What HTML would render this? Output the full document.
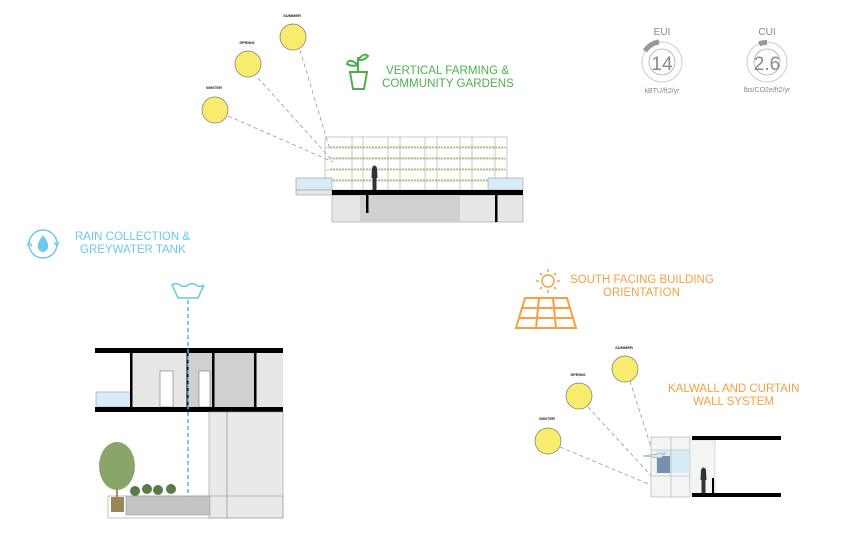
<!DOCTYPE html>
<html><head><meta charset="utf-8"><style>
html,body{margin:0;padding:0;background:#fff;width:848px;height:543px;overflow:hidden}
svg{display:block}
text{font-family:"Liberation Sans",sans-serif}
</style></head><body>
<svg width="848" height="543" viewBox="0 0 848 543" xmlns="http://www.w3.org/2000/svg">
<g stroke="#999" stroke-dasharray="4,3" stroke-width="0.8" fill="none">
<line x1="300" y1="50" x2="330" y2="150"/>
<line x1="258" y1="78" x2="330" y2="158"/>
<line x1="228" y1="116" x2="333" y2="162"/>
</g>
<g fill="#f8ec6f" stroke="#777" stroke-width="0.7">
<circle cx="293" cy="37" r="13"/><circle cx="248" cy="64" r="13"/><circle cx="215" cy="110" r="13"/>
</g>
<g font-size="4" font-weight="bold" fill="#222" text-anchor="middle">
<text x="292" y="17">SUMMER</text><text x="247" y="44">SPRING</text><text x="214" y="89">WINTER</text>
</g>
<g stroke="#bbb" stroke-width="0.8" fill="none">
<rect x="325" y="137" width="182" height="53"/>
<line x1="325" y1="148" x2="507" y2="148"/><line x1="325" y1="159" x2="507" y2="159"/><line x1="325" y1="170" x2="507" y2="170"/><line x1="325" y1="181" x2="507" y2="181"/>
<line x1="352" y1="137" x2="352" y2="190"/><line x1="363" y1="137" x2="363" y2="190"/><line x1="388" y1="137" x2="388" y2="190"/><line x1="400" y1="137" x2="400" y2="190"/><line x1="425" y1="137" x2="425" y2="190"/><line x1="437" y1="137" x2="437" y2="190"/><line x1="460" y1="137" x2="460" y2="190"/><line x1="472" y1="137" x2="472" y2="190"/><line x1="495" y1="137" x2="495" y2="190"/>
</g>
<g stroke="#8bc34a" stroke-width="1" stroke-dasharray="2,1"><line x1="330" y1="147" x2="505" y2="147"/><line x1="330" y1="158" x2="505" y2="158"/><line x1="330" y1="169" x2="505" y2="169"/><line x1="330" y1="180" x2="505" y2="180"/></g>
<rect x="296" y="178" width="36" height="12" fill="#d8ecf8" stroke="#999" stroke-width="0.6"/>
<rect x="296" y="190" width="36" height="5" fill="#e6e6e6" stroke="#999" stroke-width="0.6"/>
<rect x="488" y="178" width="35" height="12" fill="#d8ecf8" stroke="#999" stroke-width="0.6"/>
<rect x="332" y="195" width="191" height="27" fill="#e6e6e6" stroke="#999" stroke-width="0.6"/>
<rect x="360" y="195" width="100" height="27" fill="#d0d0d0"/>
<rect x="332" y="190" width="191" height="5" fill="#000"/>
<rect x="366" y="195" width="2.5" height="18" fill="#000"/>
<rect x="495" y="195" width="2.5" height="27" fill="#000"/>
<path d="M372 168 q2.5-5 5 0 l0.5 10 h-1 v12 h-4 v-12 h-1z" fill="#333"/>
<g stroke="#4caf50" stroke-width="2" fill="none">
<path d="M350 72 h17 l-3 17 h-11z"/><line x1="349" y1="72" x2="368" y2="72"/>
<path d="M358 72 v-15"/><path d="M358 65 q-9-8-11-1 q5 3 11 1"/><path d="M358 60 q6-8 10-4 q-4 5-10 4"/>
</g>
<g font-size="11.6" fill="#4caf50"><text x="386" y="74">VERTICAL FARMING &amp;</text><text x="382" y="87">COMMUNITY GARDENS</text></g>
<g fill="none">
<circle cx="662" cy="62" r="20" stroke="#ccc" stroke-width="1"/><circle cx="662" cy="62" r="13" stroke="#aaa" stroke-width="0.8"/>
<path d="M645 51 A20 20 0 0 1 659 42" stroke="#999" stroke-width="5"/>
<circle cx="767" cy="62" r="20" stroke="#ccc" stroke-width="1"/><circle cx="767" cy="62" r="13" stroke="#aaa" stroke-width="0.8"/>
<path d="M759 44 A20 20 0 0 1 767 42.5" stroke="#999" stroke-width="5"/>
</g>
<g fill="#888" text-anchor="middle">
<text x="662" y="35" font-size="10">EUI</text><text x="662" y="70" font-size="19">14</text><text x="662" y="93" font-size="7">kBTU/ft2/yr</text>
<text x="767" y="35" font-size="10">CUI</text><text x="767" y="70" font-size="19">2.6</text><text x="767" y="92" font-size="7">lbs/CO2e/ft2/yr</text>
</g>
<circle cx="43" cy="244" r="14" fill="none" stroke="#6cc8ec" stroke-width="1.5"/>
<path d="M43 235 q-6 8 -5 12 a5 5 0 0 0 10 0 q1-4 -5-12z" fill="#6cc8ec"/>
<path d="M27 246 l2-4 l3 4M59 242 l-2 4 l-3-4" stroke="#6cc8ec" fill="none" stroke-width="1.2"/>
<g font-size="11.5" fill="#6cc8ec"><text x="75" y="240">RAIN COLLECTION &amp;</text><text x="80" y="253">GREYWATER TANK</text></g>
<path d="M172 285 q4-3 8 0 q4 3 8 0 q4-3 8 0 q4 3 8 0 l-6 13 h-20z" fill="none" stroke="#6cc8ec" stroke-width="1.5"/>
<rect x="131" y="353" width="152" height="54" fill="#e6e6e6"/>
<rect x="187" y="353" width="68" height="54" fill="#d0d0d0"/>
<rect x="96" y="392" width="35" height="15" fill="#d8ecf8" stroke="#999" stroke-width="0.6"/>
<rect x="160" y="371" width="13" height="36" fill="#fff" stroke="#777" stroke-width="0.6"/>
<rect x="199" y="371" width="11" height="36" fill="#fff" stroke="#777" stroke-width="0.6"/>
<rect x="95" y="348" width="188" height="5" fill="#000"/>
<rect x="95" y="407" width="188" height="5" fill="#000"/>
<rect x="130" y="353" width="2.5" height="54" fill="#000"/>
<rect x="186.5" y="353" width="2" height="54" fill="#000"/>
<rect x="212" y="353" width="2.5" height="54" fill="#000"/>
<rect x="254" y="353" width="2.5" height="54" fill="#000"/>
<rect x="209" y="412" width="74" height="106" fill="#e9e9e9" stroke="#999" stroke-width="0.6"/>
<line x1="227" y1="412" x2="227" y2="518" stroke="#999" stroke-width="0.8"/>
<rect x="126" y="496" width="84" height="19" fill="#c4c4c4" stroke="#999" stroke-width="0.6"/>
<rect x="108" y="496" width="175" height="22" fill="none" stroke="#999" stroke-width="0.6"/>
<rect x="111" y="497" width="13" height="15" fill="#9a845a"/>
<line x1="117" y1="470" x2="117" y2="497" stroke="#7a6a4a" stroke-width="1.5"/>
<ellipse cx="117" cy="466" rx="18" ry="24" fill="#8aa56a"/>
<g fill="#5a7a4a"><circle cx="135" cy="491" r="5"/><circle cx="147" cy="489" r="5"/><circle cx="158" cy="490" r="5"/><circle cx="171" cy="489" r="5"/></g>
<line x1="188" y1="300" x2="188" y2="497" stroke="#4fb8e6" stroke-width="1.5" stroke-dasharray="4,3"/>
<circle cx="548" cy="281" r="6" fill="none" stroke="#f7a042" stroke-width="1.5"/>
<g stroke="#f7a042" stroke-width="1.5"><line x1="548" y1="269" x2="548" y2="272"/><line x1="548" y1="290" x2="548" y2="293"/><line x1="536" y1="281" x2="539" y2="281"/><line x1="557" y1="281" x2="560" y2="281"/><line x1="540" y1="273" x2="542" y2="275"/><line x1="554" y1="287" x2="556" y2="289"/><line x1="556" y1="273" x2="554" y2="275"/><line x1="540" y1="289" x2="542" y2="287"/></g>
<g font-size="11.5" fill="#f7a042"><text x="570" y="283">SOUTH FACING BUILDING</text><text x="603" y="296">ORIENTATION</text></g>
<g stroke="#f7a042" stroke-width="2" fill="none"><path d="M525 298 h42 l9 30 h-60z"/><line x1="522" y1="308" x2="570" y2="308"/><line x1="519" y1="318" x2="573" y2="318"/><line x1="539" y1="298" x2="536" y2="328"/><line x1="553" y1="298" x2="556" y2="328"/></g>
<g font-size="11.5" fill="#f7a042"><text x="668" y="392">KALWALL AND CURTAIN</text><text x="693" y="405">WALL SYSTEM</text></g>
<g stroke="#999" stroke-dasharray="4,3" stroke-width="0.8" fill="none">
<line x1="630" y1="381" x2="652" y2="450"/><line x1="588" y1="407" x2="655" y2="480"/><line x1="560" y1="447" x2="658" y2="488"/>
</g>
<g fill="#f8ec6f" stroke="#777" stroke-width="0.7"><circle cx="625" cy="369" r="13"/><circle cx="579" cy="396" r="13"/><circle cx="548" cy="441" r="13"/></g>
<g font-size="4" font-weight="bold" fill="#222" text-anchor="middle"><text x="624" y="349">SUMMER</text><text x="578" y="376">SPRING</text><text x="547" y="420">WINTER</text></g>
<rect x="651" y="437" width="39" height="60" fill="#f3f4f4" stroke="#aaa" stroke-width="0.6"/>
<rect x="656" y="450" width="33" height="23" fill="#d8ecf8"/>
<rect x="657" y="456" width="13" height="17" fill="#7a8fa8"/>
<g stroke="#aaa" stroke-width="0.6"><line x1="651" y1="450" x2="690" y2="450"/><line x1="651" y1="476" x2="690" y2="476"/><line x1="671" y1="437" x2="671" y2="497"/></g>
<path d="M643 456 l22-3 l-4 5z" fill="#d8ecf8" stroke="#888" stroke-width="0.5"/>
<rect x="690" y="440" width="25" height="54" fill="#f3f4f4" stroke="#bbb" stroke-width="0.5"/>
<rect x="692" y="436" width="89" height="4" fill="#000"/>
<rect x="692" y="493" width="89" height="4" fill="#000"/>
<rect x="712" y="478" width="2" height="15" fill="#000"/>
<path d="M701 470 q2.5-5 5 0 l0.5 10 h-1 v13 h-4 v-13 h-1z" fill="#333"/>
</svg>
</body></html>
